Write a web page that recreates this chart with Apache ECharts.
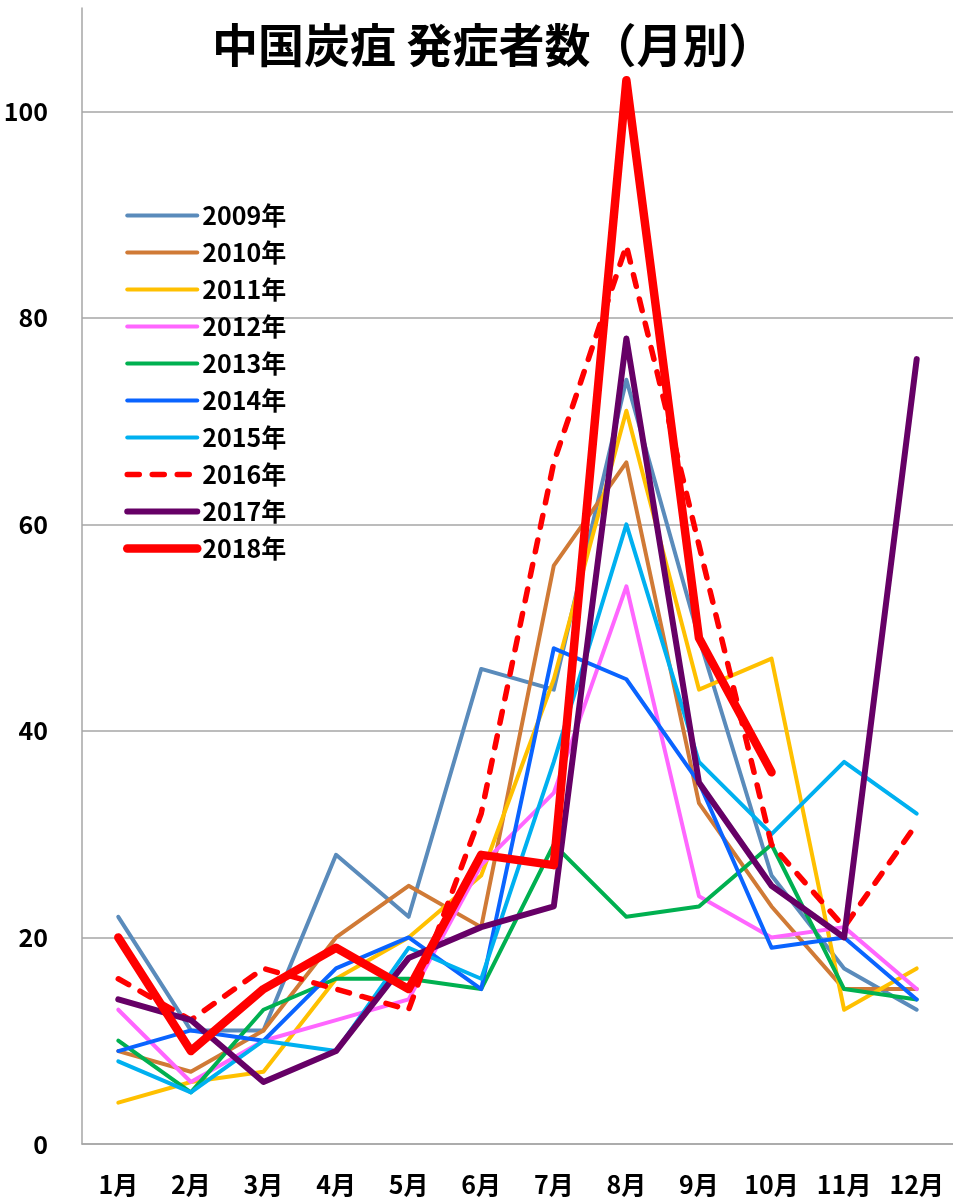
<!DOCTYPE html>
<html>
<head>
<meta charset="utf-8">
<script src="https://cdn.jsdelivr.net/npm/echarts@6/dist/echarts.min.js"></script>
<style>
html,body{margin:0;padding:0;background:#fff;}
#chart{width:953px;height:1199px;}
</style>
</head>
<body>
<div id="chart"></div>
<script>
const titleText = '中国炭疽 発症者数（月別）';
const months = ['1月','2月','3月','4月','5月','6月','7月','8月','9月','10月','11月','12月'];
const yTicks = [0, 20, 40, 60, 80, 100];

const y2009 = [22, 11, 11, 28, 22, 46, 44, 74, 49, 26, 17, 13];
const y2010 = [9, 7, 11, 20, 25, 21, 56, 66, 33, 23, 15, 15];
const y2011 = [4, 6, 7, 16, 20, 26, 45, 71, 44, 47, 13, 17];
const y2012 = [13, 6, 10, 12, 14, 27, 34, 54, 24, 20, 21, 15];
const y2013 = [10, 5, 13, 16, 16, 15, 29, 22, 23, 29, 15, 14];
const y2014 = [9, 11, 10, 17, 20, 15, 48, 45, 35, 19, 20, 14];
const y2015 = [8, 5, 10, 9, 19, 16, 37, 60, 37, 30, 37, 32];
const y2016 = [16, 12, 17, 15, 13, 32, 66, 87, 58, 29, 21, 31];
const y2017 = [14, 12, 6, 9, 18, 21, 23, 78, 35, 25, 20, 76];
const y2018 = [20, 9, 15, 19, 15, 28, 27, 103, 49, 36, null, null];

const seriesNames = ['2009年','2010年','2011年','2012年','2013年','2014年','2015年','2016年','2017年','2018年'];
const seriesData = [y2009, y2010, y2011, y2012, y2013, y2014, y2015, y2016, y2017, y2018];
const colors = ['#5A8BBB','#D07A36','#FFC000','#FF66FF','#00B050','#0A64FF','#00B0F0','#FF0000','#660066','#FF0000'];
const widths = [4,4,4,4,4,4,4,5.5,6,8.5];
const types = ['solid','solid','solid','solid','solid','solid','solid',[12,13],'solid','solid'];

const FONT = '"Noto Sans CJK JP", "Noto Sans", sans-serif';

const series = seriesNames.map((n, i) => ({
  name: n,
  type: 'line',
  data: seriesData[i],
  showSymbol: false,
  symbol: 'none',
  connectNulls: false,
  animation: false,
  z: 2 + i,
  lineStyle: { color: colors[i], width: widths[i], type: types[i], cap: 'round', join: 'round' },
  itemStyle: { color: colors[i] }
}));

const legendData = seriesNames.map((n, i) => ({
  name: n,
  itemStyle: { opacity: 0 },
  lineStyle: { color: colors[i], width: widths[i], type: types[i], cap: 'round' }
}));

const chart = echarts.init(document.getElementById('chart'), null, { renderer: 'canvas' });
chart.setOption({
  backgroundColor: '#ffffff',
  animation: false,
  title: {
    text: titleText,
    left: 207,
    top: 17,
    textStyle: { fontFamily: FONT, fontSize: 46, fontWeight: 'bold', color: '#000' }
  },
  legend: {
    orient: 'vertical',
    left: 118,
    top: 198,
    itemWidth: 70,
    itemHeight: 25,
    itemGap: 12,
    data: legendData,
    itemStyle: { opacity: 0 },
    textStyle: { fontFamily: FONT, fontSize: 25, fontWeight: 'bold', color: '#000' }
  },
  grid: { left: 82, top: 8, width: 873, height: 1136, containLabel: false },
  xAxis: {
    type: 'category',
    data: months,
    boundaryGap: true,
    axisLine: { show: true, lineStyle: { color: '#A6A6A6', width: 1.5 } },
    axisTick: { show: false },
    axisLabel: { fontFamily: FONT, fontSize: 25, fontWeight: 'bold', color: '#000', margin: 28 }
  },
  yAxis: {
    type: 'value',
    min: 0,
    max: 110,
    interval: 20,
    axisLine: { show: true, lineStyle: { color: '#A6A6A6', width: 1.5 } },
    axisTick: { show: false },
    splitLine: { show: true, showMaxLine: false, lineStyle: { color: '#A6A6A6', width: 1.5 } },
    axisLabel: {
      fontFamily: FONT, fontSize: 25, fontWeight: 'bold', color: '#000', margin: 34,
      showMaxLabel: false,
      formatter: v => (yTicks.indexOf(v) >= 0 ? String(v) : '')
    }
  },
  series: series
});
</script>
</body>
</html>
